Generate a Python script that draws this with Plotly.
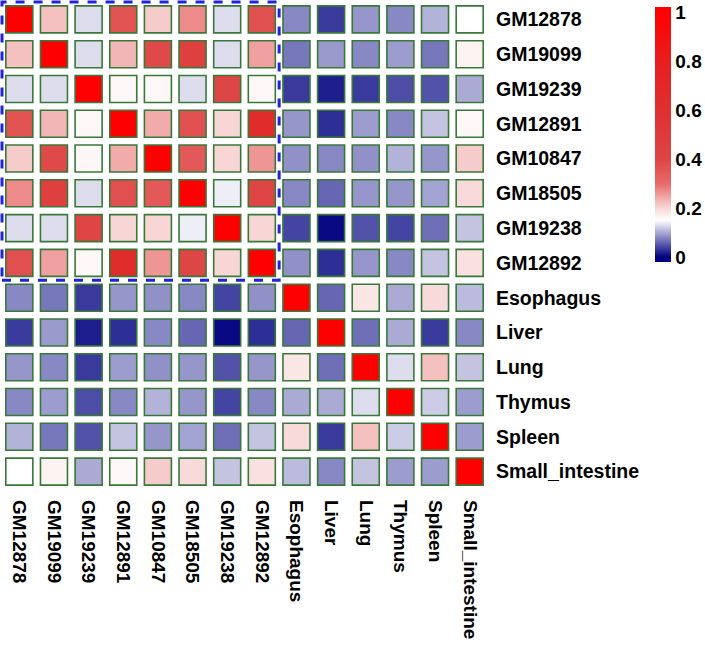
import numpy as np
import plotly.graph_objects as go

cell_lines = ["GM12878", "GM19099", "GM19239", "GM12891", "GM10847", "GM18505", "GM19238", "GM12892"]
tissues = ["Esophagus", "Liver", "Lung", "Thymus", "Spleen", "Small_intestine"]
labels = cell_lines + tissues

values = [
    [1.00, 0.22, 0.13, 0.36, 0.21, 0.27, 0.13, 0.37, 0.080, 0.034, 0.088, 0.080, 0.105, 0.150],
    [0.22, 1.00, 0.13, 0.23, 0.39, 0.46, 0.13, 0.25, 0.070, 0.090, 0.080, 0.092, 0.070, 0.165],
    [0.13, 0.13, 1.00, 0.16, 0.16, 0.13, 0.40, 0.16, 0.034, 0.017, 0.034, 0.045, 0.048, 0.100],
    [0.36, 0.23, 0.16, 1.00, 0.24, 0.37, 0.20, 0.65, 0.088, 0.027, 0.092, 0.080, 0.115, 0.160],
    [0.21, 0.39, 0.16, 0.24, 1.00, 0.35, 0.20, 0.26, 0.085, 0.080, 0.085, 0.105, 0.088, 0.210],
    [0.27, 0.46, 0.13, 0.37, 0.35, 1.00, 0.14, 0.40, 0.080, 0.060, 0.088, 0.088, 0.096, 0.195],
    [0.13, 0.13, 0.40, 0.20, 0.20, 0.14, 1.00, 0.20, 0.040, 0.005, 0.048, 0.040, 0.065, 0.115],
    [0.37, 0.25, 0.16, 0.65, 0.26, 0.40, 0.20, 1.00, 0.085, 0.027, 0.088, 0.080, 0.115, 0.187],
    [0.080, 0.070, 0.034, 0.088, 0.085, 0.080, 0.040, 0.085, 1.00, 0.060, 0.180, 0.100, 0.195, 0.110],
    [0.034, 0.090, 0.017, 0.027, 0.080, 0.060, 0.005, 0.027, 0.060, 1.00, 0.065, 0.100, 0.034, 0.080],
    [0.088, 0.080, 0.034, 0.092, 0.085, 0.088, 0.048, 0.088, 0.180, 0.065, 1.00, 0.130, 0.220, 0.115],
    [0.080, 0.092, 0.045, 0.080, 0.105, 0.088, 0.040, 0.080, 0.100, 0.100, 0.130, 1.00, 0.120, 0.092],
    [0.105, 0.070, 0.048, 0.115, 0.088, 0.096, 0.065, 0.115, 0.195, 0.034, 0.220, 0.120, 1.00, 0.092],
    [0.150, 0.165, 0.100, 0.160, 0.210, 0.195, 0.115, 0.187, 0.110, 0.080, 0.115, 0.092, 0.092, 1.00],
]

colorbar_ticks = [0, 0.2, 0.4, 0.6, 0.8, 1]
colorbar_ticktext = ["0", "0.2", "0.4", "0.6", "0.8", "1"]

# colour stops given in data value units
color_stops = [
    (0.0, "#000080"), (0.15, "#ffffff"), (0.2, "#f8d6d6"), (0.3, "#e86a6a"),
    (0.4, "#de4545"), (0.6, "#de3030"), (0.8, "#e81e1e"), (1.0, "#ff0000"),
]
cmin, cmax = -0.02, 1.02
colorscale = [[0.0, color_stops[0][1]]]
colorscale += [[(v - cmin) / (cmax - cmin), c] for v, c in color_stops]
colorscale += [[1.0, color_stops[-1][1]]]

n = len(labels)
arr = np.array(values)
xs = [labels[j] for i in range(n) for j in range(n)]
ys = [labels[i] for i in range(n) for j in range(n)]
cs = arr.flatten()

FONT = "Arial, Liberation Sans, sans-serif"
W, H = 705, 645
ml, mr, mt, mb = 2, 218, 2, 156
plot_h = H - mt - mb

fig = go.Figure(go.Scatter(
    x=xs, y=ys, mode="markers", hoverinfo="skip",
    marker=dict(
        symbol="square", size=27, color=cs, cmin=cmin, cmax=cmax,
        colorscale=colorscale,
        line=dict(color="#3a783a", width=1.6),
        colorbar=dict(
            tickvals=colorbar_ticks, ticktext=colorbar_ticktext,
            thickness=16, len=255, lenmode="pixels",
            x=(655 - ml) / (W - ml - mr), xanchor="left", xpad=0,
            y=1 - (7 - mt) / plot_h, yanchor="top", ypad=0,
            outlinewidth=0, ticks="",
            tickfont=dict(family=FONT, size=19, color="black", weight="bold"),
        ),
    ),
))

nb = len(cell_lines)
fig.add_shape(
    type="rect", xref="paper", yref="paper",
    x0=0, x1=nb / n, y0=1 - nb / n, y1=1,
    line=dict(color="#2222dd", width=3, dash="dash"), layer="above",
)

fig.update_layout(
    width=W, height=H, margin=dict(l=ml, r=mr, t=mt, b=mb),
    plot_bgcolor="white", paper_bgcolor="white", showlegend=False,
    font=dict(family=FONT, color="black"),
)
fig.update_xaxes(
    categoryorder="array", categoryarray=labels, range=[-0.5, n - 0.5],
    tickangle=90, showgrid=False, zeroline=False, showline=False, ticks="",
    ticklabelstandoff=10,
    tickfont=dict(family=FONT, size=19, color="black", weight="bold"),
)
fig.update_yaxes(
    categoryorder="array", categoryarray=labels, range=[n - 0.5, -0.5],
    side="right", showgrid=False, zeroline=False, showline=False, ticks="",
    ticklabelstandoff=8,
    tickfont=dict(family=FONT, size=19.5, color="black", weight="bold"),
)

fig.write_html("out.html", config={"displayModeBar": False},
               post_script="document.body.style.margin='0';")
